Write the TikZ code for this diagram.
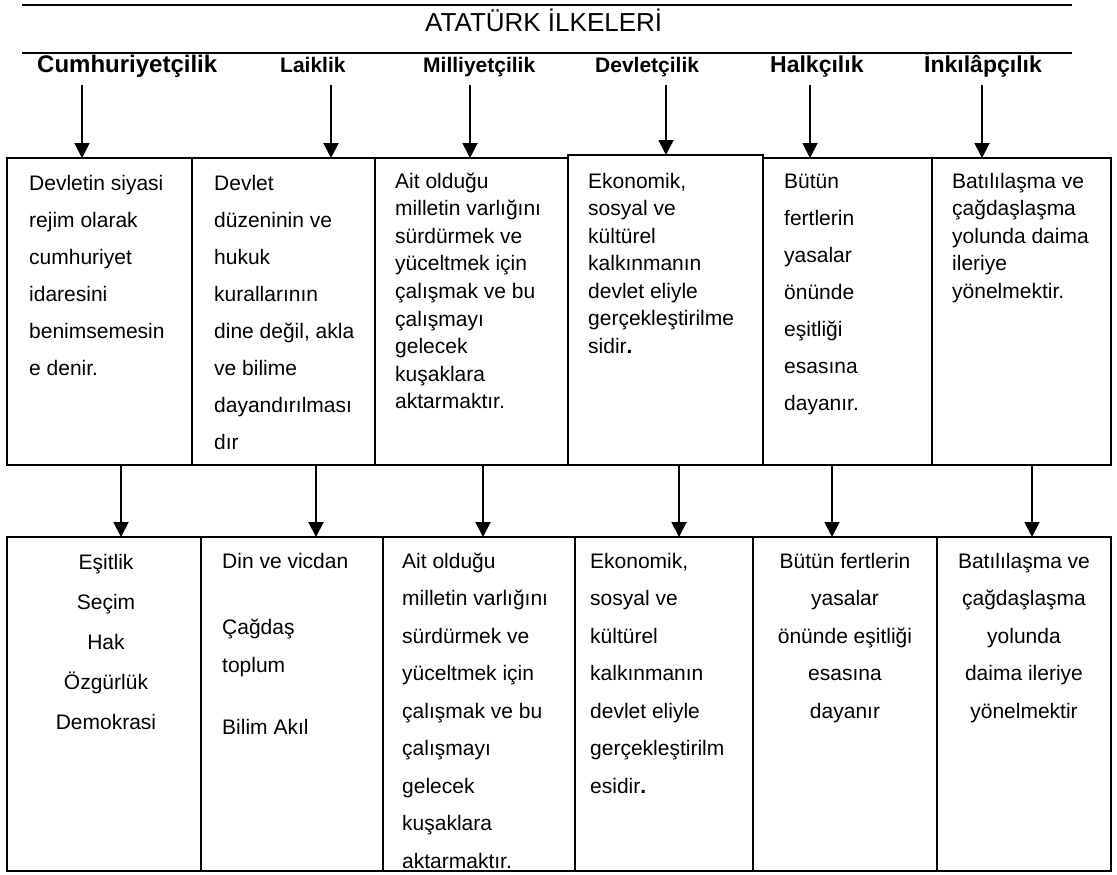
\documentclass[tikz,border=0pt]{standalone}
\usepackage{fontspec}
\setmainfont{Liberation Sans}
\usetikzlibrary{arrows.meta}
\newcommand\textlines[6]{\foreach \t [count=\i from 0] in {#6}{\node[txt,anchor=#5] (#1-\i) at (#2,{#3+\i*#4}) {\t};}}
\newcommand\cellbox[5]{\node[frame, minimum width={(#4-#2)*1pt}, minimum height={(#5-#3)*1pt}] (#1) at (#2,#3) {};}
\begin{document}
\begin{tikzpicture}[x=1pt,y=-1pt,
  frame/.style={draw, line width=1.9pt, inner sep=0pt, outer sep=0pt, anchor=north west},
  lab/.style={font=\fontsize{#1}{#1}\selectfont\bfseries, inner sep=0pt, anchor=base west},
  txt/.style={font=\fontsize{21}{25}\selectfont, inner sep=0pt},
  arr/.style={line width=1.9pt, -{Triangle[width=15pt,length=15pt]}},
  rule/.style={line width=2.2pt}]
\useasboundingbox[fill=white] (0,0) rectangle (1117,875);
% title and rules
\coordinate (r1a) at (22,5); \coordinate (r1b) at (1072,5);
\coordinate (r2a) at (22,53); \coordinate (r2b) at (1072,53);
\draw[rule] (r1a) -- (r1b);
\draw[rule] (r2a) -- (r2b);
\node[anchor=base west, inner sep=0pt, font=\fontsize{26}{30}\selectfont] (title) at (425,32) {ATATÜRK İLKELERİ};
% principle labels
\node[lab=24] (L1) at (37,73) {Cumhuriyetçilik};
\node[lab=21] (L2) at (280,73) {Laiklik};
\node[lab=21] (L3) at (423,73) {Milliyetçilik};
\node[lab=21] (L4) at (595,73) {Devletçilik};
\node[lab=23] (L5) at (770,73) {Halkçılık};
\node[lab=23] (L6) at (924,73) {İnkılâpçılık};
% top row boxes
\cellbox{t1}{7}{158}{192}{465}
\cellbox{t2}{192}{158}{375}{465}
\cellbox{t3}{375}{158}{568}{465}
\cellbox{t4}{568}{155}{763}{465}
\cellbox{t5}{763}{158}{932}{465}
\cellbox{t6}{932}{158}{1111}{465}
% bottom row boxes
\cellbox{b1}{7}{537}{201}{871}
\cellbox{b2}{201}{537}{383}{871}
\cellbox{b3}{383}{537}{575}{871}
\cellbox{b4}{575}{537}{753}{871}
\cellbox{b5}{753}{537}{937}{871}
\cellbox{b6}{937}{537}{1111}{871}
% arrows labels -> top boxes
\coordinate (s1) at (82,85);  \draw[arr] (s1) -- (s1 |- t1.north);
\coordinate (s2) at (331,85); \draw[arr] (s2) -- (s2 |- t2.north);
\coordinate (s3) at (470,85); \draw[arr] (s3) -- (s3 |- t3.north);
\coordinate (s4) at (666,85); \draw[arr] (s4) -- (s4 |- t4.north);
\coordinate (s5) at (810,85); \draw[arr] (s5) -- (s5 |- t5.north);
\coordinate (s6) at (982,85); \draw[arr] (s6) -- (s6 |- t6.north);
% arrows top boxes -> bottom boxes
\coordinate (d1) at (121,0);  \draw[arr] (d1 |- t1.south) -- (d1 |- b1.north);
\coordinate (d2) at (316,0);  \draw[arr] (d2 |- t2.south) -- (d2 |- b2.north);
\coordinate (d3) at (483,0);  \draw[arr] (d3 |- t3.south) -- (d3 |- b3.north);
\coordinate (d4) at (679,0);  \draw[arr] (d4 |- t4.south) -- (d4 |- b4.north);
\coordinate (d5) at (832,0);  \draw[arr] (d5 |- t5.south) -- (d5 |- b5.north);
\coordinate (d6) at (1032,0); \draw[arr] (d6 |- t6.south) -- (d6 |- b6.north);
% top row texts
\textlines{tx1}{29}{190}{37}{base west}{Devletin siyasi,rejim olarak,cumhuriyet,idaresini,benimsemesin,e denir.}
\textlines{tx2}{214}{190}{37}{base west}{Devlet,düzeninin ve,hukuk,kurallarının,{dine değil, akla},ve bilime,dayandırılması,dır}
\textlines{tx3}{395}{188}{27.6}{base west}{Ait olduğu,milletin varlığını,sürdürmek ve,yüceltmek için,çalışmak ve bu,çalışmayı,gelecek,kuşaklara,aktarmaktır.}
\textlines{tx4}{588}{188}{27.5}{base west}{{Ekonomik,},sosyal ve,kültürel,kalkınmanın,devlet eliyle,gerçekleştirilme,sidir\textbf{.}}
\textlines{tx5}{784}{188}{37}{base west}{Bütün,fertlerin,yasalar,önünde,eşitliği,esasına,dayanır.}
\textlines{tx6}{952}{188}{27.5}{base west}{Batılılaşma ve,çağdaşlaşma,yolunda daima,ileriye,yönelmektir.}
% bottom row texts
\textlines{bx1}{106}{569}{40}{base}{Eşitlik,Seçim,Hak,Özgürlük,Demokrasi}
\node[txt,anchor=base west] (bx2-0) at (222,568) {Din ve vicdan};
\node[txt,anchor=base west] (bx2-1) at (222,634) {Çağdaş};
\node[txt,anchor=base west] (bx2-2) at (222,672) {toplum};
\node[txt,anchor=base west] (bx2-3) at (222,734) {Bilim Akıl};
\textlines{bx3}{402}{568}{37.5}{base west}{Ait olduğu,milletin varlığını,sürdürmek ve,yüceltmek için,çalışmak ve bu,çalışmayı,gelecek,kuşaklara,aktarmaktır.}
\textlines{bx4}{590}{568}{37.5}{base west}{{Ekonomik,},sosyal ve,kültürel,kalkınmanın,devlet eliyle,gerçekleştirilm,esidir\textbf{.}}
\textlines{bx5}{845}{568}{37.5}{base}{Bütün fertlerin,yasalar,önünde eşitliği,esasına,dayanır}
\textlines{bx6}{1024}{568}{37.5}{base}{Batılılaşma ve,çağdaşlaşma,yolunda,daima ileriye,yönelmektir}
\end{tikzpicture}
\end{document}
